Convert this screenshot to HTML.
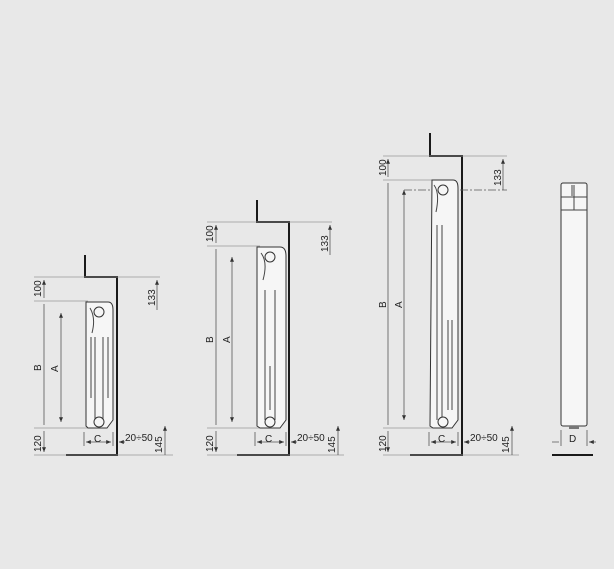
<!DOCTYPE html>
<html><head><meta charset="utf-8"><style>
html,body{margin:0;padding:0;background:#e8e8e8;}
svg{display:block}
text{font-family:"Liberation Sans",sans-serif;font-size:10px;fill:#222}
.w{stroke:#1a1a1a;stroke-width:2;fill:none}
.d{stroke:#555;stroke-width:0.8;fill:none}
.e{stroke:#999;stroke-width:0.8;fill:none}
.r{stroke:#333;stroke-width:1;fill:#f6f6f6}
.l{stroke:#444;stroke-width:1;fill:none}
</style></head><body>
<svg width="614" height="569" viewBox="0 0 614 569" xmlns="http://www.w3.org/2000/svg">
<defs><marker id="a" viewBox="0 0 6 6" refX="6" refY="3" markerWidth="6" markerHeight="6" orient="auto-start-reverse"><path d="M0,0.5L6,3L0,5.5z" fill="#333"/></marker></defs>
<rect width="614" height="569" fill="#e8e8e8"/>

<!-- SMALL -->
<path class="w" d="M85,255V277H117V455H66"/>
<path class="e" d="M34,277H160M34,301H88M34,428H88M34,455H173"/>
<path class="d" d="M44,280V298M44,304V425M44,431V452" marker-start="url(#a)" marker-end="url(#a)"/>
<path class="d" d="M61,313V422" marker-start="url(#a)" marker-end="url(#a)"/>
<path class="d" d="M157,280V310" marker-start="url(#a)"/>
<path class="d" d="M165,426V455" marker-start="url(#a)"/>
<path class="r" d="M86,302H108Q113,302 113,310V420L107,428H88L86,426Z"/>
<path class="l" d="M90,308Q96,318 92,333M91,337V398M95,337V420M103,337V420M108,337V398"/>
<circle class="r" cx="99" cy="312" r="5"/><circle class="r" cx="99" cy="422" r="5"/>
<path class="d" d="M84,432V446M113,432V446"/>
<path class="d" d="M86,442H111" marker-start="url(#a)" marker-end="url(#a)"/>
<path class="d" d="M125,442H119" marker-end="url(#a)"/>
<text x="94" y="442">C</text>
<text x="125" y="441">20÷50</text>
<text transform="translate(41,297) rotate(-90)">100</text>
<text transform="translate(41,371) rotate(-90)">B</text>
<text transform="translate(41,452) rotate(-90)">120</text>
<text transform="translate(58,372) rotate(-90)">A</text>
<text transform="translate(155,306) rotate(-90)">133</text>
<text transform="translate(162,453) rotate(-90)">145</text>

<!-- MEDIUM -->
<path class="w" d="M257,200V222H289V455H237"/>
<path class="e" d="M207,222H332M207,246H260M207,428H260M207,455H344"/>
<path class="d" d="M216,225V243M216,249V425M216,431V452" marker-start="url(#a)" marker-end="url(#a)"/>
<path class="d" d="M232,257V422" marker-start="url(#a)" marker-end="url(#a)"/>
<path class="d" d="M330,225V255" marker-start="url(#a)"/>
<path class="d" d="M338,426V455" marker-start="url(#a)"/>
<path class="r" d="M257,247H280Q286,247 286,256V420L280,428H260L257,426Z"/>
<path class="l" d="M261,253Q268,262 263,280M265,290V420M275,290V420M270,366V410"/>
<circle class="r" cx="270" cy="257" r="5"/><circle class="r" cx="270" cy="422" r="5"/>
<path class="d" d="M255,432V446M286,432V446"/>
<path class="d" d="M257,442H284" marker-start="url(#a)" marker-end="url(#a)"/>
<path class="d" d="M297,442H291" marker-end="url(#a)"/>
<text x="265" y="442">C</text>
<text x="297" y="441">20÷50</text>
<text transform="translate(213,242) rotate(-90)">100</text>
<text transform="translate(213,343) rotate(-90)">B</text>
<text transform="translate(213,452) rotate(-90)">120</text>
<text transform="translate(230,343) rotate(-90)">A</text>
<text transform="translate(328,252) rotate(-90)">133</text>
<text transform="translate(335,453) rotate(-90)">145</text>

<!-- LARGE -->
<path class="w" d="M430,133V156H462V455H410"/>
<path class="e" d="M383,156H507M383,180H434M383,428H434M383,455H519"/>
<path class="d" d="M388,159V177M388,183V425M388,431V452" marker-start="url(#a)" marker-end="url(#a)"/>
<path class="d" d="M404,190V420" marker-start="url(#a)" marker-end="url(#a)"/>
<path class="d" d="M404,190H507" stroke-dasharray="8,2,2,2"/>
<path class="d" d="M503,159V190" marker-start="url(#a)"/>
<path class="d" d="M512,426V455" marker-start="url(#a)"/>
<path class="r" d="M432,180H453Q458,180 458,188V420L452,428H433L430,426Z"/>
<path class="l" d="M434,185Q440,193 436,212M437,225V420M442,225V420M448,320V410M452,320V410"/>
<circle class="r" cx="443" cy="190" r="5"/><circle class="r" cx="443" cy="422" r="5"/>
<path class="d" d="M429,432V446M458,432V446"/>
<path class="d" d="M431,442H456" marker-start="url(#a)" marker-end="url(#a)"/>
<path class="d" d="M470,442H464" marker-end="url(#a)"/>
<text x="438" y="442">C</text>
<text x="470" y="441">20÷50</text>
<text transform="translate(386,176) rotate(-90)">100</text>
<text transform="translate(386,308) rotate(-90)">B</text>
<text transform="translate(386,452) rotate(-90)">120</text>
<text transform="translate(402,308) rotate(-90)">A</text>
<text transform="translate(501,186) rotate(-90)">133</text>
<text transform="translate(509,453) rotate(-90)">145</text>

<!-- SIDE -->
<rect class="r" x="561" y="183" width="26" height="243" rx="2"/>
<path class="l" d="M561,210H587M561,197H587M574,185V210M572,185V196"/>
<rect x="569" y="426" width="10" height="3" fill="#777"/>
<path class="w" d="M552,455H593"/>
<path class="d" d="M561,430V446M587,430V446"/>
<path class="d" d="M552,442H559M596,442H589" marker-end="url(#a)"/>
<text x="569" y="442">D</text>
</svg>
</body></html>
